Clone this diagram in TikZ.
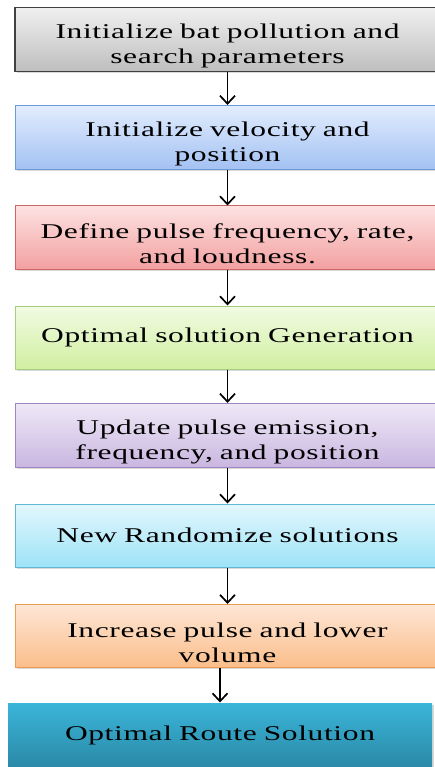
\documentclass[tikz,border=0pt]{standalone}
\usepackage{fontspec}
\setmainfont[FakeStretch=1.5,LetterSpace=3]{Liberation Serif}
\usetikzlibrary{
    arrows.meta,
    shadows
}

\definecolor{grayTop}{HTML}{F0F0F0}
\definecolor{grayBot}{HTML}{BEBEBE}
\definecolor{grayLine}{HTML}{404040}
\definecolor{blueTop}{HTML}{E2EDFD}
\definecolor{blueBot}{HTML}{A3C1F3}
\definecolor{blueLine}{HTML}{6E9AD4}
\definecolor{redTop}{HTML}{FDE2E2}
\definecolor{redBot}{HTML}{F3A0A0}
\definecolor{redLine}{HTML}{CF6464}
\definecolor{greenTop}{HTML}{F1FBE2}
\definecolor{greenBot}{HTML}{D1EFA2}
\definecolor{greenLine}{HTML}{A6CC7E}
\definecolor{purpleTop}{HTML}{EEE8F6}
\definecolor{purpleBot}{HTML}{C9B6E0}
\definecolor{purpleLine}{HTML}{9D87BE}
\definecolor{cyanTop}{HTML}{E3F7FD}
\definecolor{cyanBot}{HTML}{9DE3F7}
\definecolor{cyanLine}{HTML}{62B7D5}
\definecolor{orangeTop}{HTML}{FDE6D6}
\definecolor{orangeBot}{HTML}{FBBE8A}
\definecolor{orangeLine}{HTML}{EF9A52}
\definecolor{tealTop}{HTML}{3BB5D9}
\definecolor{tealBot}{HTML}{2A89A7}

\tikzset{
    stepbox/.style={draw, line width=1pt, minimum width=425pt, minimum height=63pt,
        text width=415pt, align=center, font=\fontsize{21}{25}\selectfont,
        drop shadow={shadow xshift=1.5pt, shadow yshift=-1.5pt, opacity=0.3}},
    twoline/.style={execute at begin node={\rule{0pt}{28pt}}},
    flow/.style={-{Straight Barb[length=8pt,width=15pt]}, line width=1.7pt}
}

\begin{document}
\begin{tikzpicture}[x=1pt,y=-1pt]

\useasboundingbox (0,0) rectangle (435,767);

% Parameters
\node[stepbox, twoline, top color=grayTop, bottom color=grayBot, draw=grayLine, line width=1.6pt]
    (param) at (227.5,39.5) {Initialize bat pollution and\\ search parameters};

% Velocity
\node[stepbox, twoline, top color=blueTop, bottom color=blueBot, draw=blueLine] (velo) at (227.5,137.5)
    {Initialize velocity and\\ position};

% Pulse
\node[stepbox, twoline, top color=redTop, bottom color=redBot, draw=redLine] (pulse) at (227.5,237.5)
    {Define pulse frequency, rate,\\ and loudness.};

% Generation
\node[stepbox, top color=greenTop, bottom color=greenBot, draw=greenLine] (gen) at (227.5,337.5)
    {Optimal solution Generation};

% Update
\node[stepbox, twoline, top color=purpleTop, bottom color=purpleBot, draw=purpleLine] (update) at (227.5,435.5)
    {Update pulse emission,\\ frequency, and position};

% Random
\node[stepbox, top color=cyanTop, bottom color=cyanBot, draw=cyanLine] (rand) at (227.5,535.5)
    {New Randomize solutions};

% Increase
\node[stepbox, twoline, top color=orangeTop, bottom color=orangeBot, draw=orangeLine] (incr) at (227.5,636)
    {Increase pulse and lower\\ volume};

% Route
\node[stepbox, top color=tealTop, bottom color=tealBot, draw=none, minimum width=424pt,
    minimum height=64pt] (route) at (220,735)
    {Optimal Route Solution};

% Arrows
\draw[flow] (param) -- (velo);
\draw[flow] (velo) -- (pulse);
\draw[flow] (pulse) -- (gen);
\draw[flow] (gen) -- (update);
\draw[flow] (update) -- (rand);
\draw[flow] (rand) -- (incr);
\draw[flow] (incr.south -| route.north) -- (route.north);

\end{tikzpicture}
\end{document}
